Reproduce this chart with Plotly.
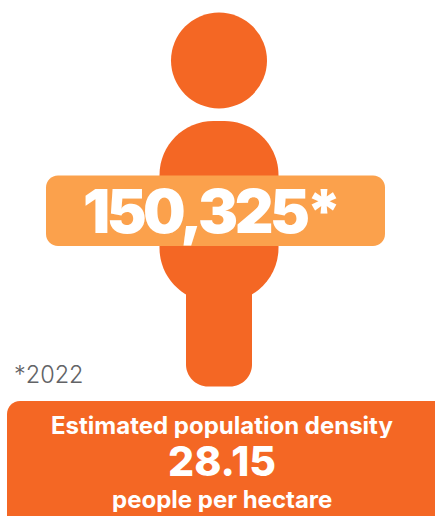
import plotly.graph_objects as go

headline_value = "150,325*"
footnote = "*2022"
density_title = "Estimated population density"
density_value = "28.15"
density_unit = "people per hectare"

ORANGE = "#F46724"
LIGHT = "#FBA14C"
W, H = 435, 516
FONT = "Inter"


def rrect(x0, y0, x1, y1, r):
    k = r * 0.448
    return (f"M{x0+r},{y0} L{x1-r},{y0} C{x1-k},{y0} {x1},{y0+k} {x1},{y0+r} "
            f"L{x1},{y1-r} C{x1},{y1-k} {x1-k},{y1} {x1-r},{y1} "
            f"L{x0+r},{y1} C{x0+k},{y1} {x0},{y1-k} {x0},{y1-r} "
            f"L{x0},{y0+r} C{x0},{y0+k} {x0+k},{y0} {x0+r},{y0} Z")


def leg(x0, y0, x1, y1, r):
    k = r * 0.448
    return (f"M{x0},{y0} L{x1},{y0} L{x1},{y1-r} C{x1},{y1-k} {x1-k},{y1} {x1-r},{y1} "
            f"L{x0+r},{y1} C{x0+k},{y1} {x0},{y1-k} {x0},{y1-r} Z")


def shape(path, color):
    return dict(type="path", path=path, fillcolor=color, line_width=0, xref="x", yref="y", layer="below")


shapes = [
    dict(type="circle", x0=171, x1=267, y0=12.5, y1=108.5, fillcolor=ORANGE, line_width=0, xref="x", yref="y", layer="below"),
    shape(rrect(159.5, 121, 278.5, 302, 54), ORANGE),
    shape(leg(186, 280, 252, 386.5, 22), ORANGE),
    shape(rrect(46, 175.5, 385, 246, 12), LIGHT),
    shape(rrect(7, 401, 450, 535, 13), ORANGE),
]


def text(x, y, s, size, color="white", weight=700, anchor="center", height=None):
    return dict(x=x, y=y, text=s, showarrow=False, xref="x", yref="y", xanchor=anchor, yanchor="middle",
                height=height, font=dict(family=FONT, size=size, color=color, weight=weight))


annotations = [
    text(210.5, 211, headline_value, 60, weight=900),
    text(12, 374, footnote, 23.5, color="#626366", weight=300, anchor="left"),
    text(222, 424.5, density_title, 24, height=26),
    text(222, 460.5, density_value, 41, weight=800, height=34),
    text(222, 498.5, density_unit, 24, height=26),
]

fig = go.Figure()
fig.update_layout(
    width=W, height=H, margin=dict(l=0, r=0, t=0, b=0),
    paper_bgcolor="white", plot_bgcolor="white", showlegend=False,
    xaxis=dict(range=[0, W], visible=False, fixedrange=True),
    yaxis=dict(range=[H, 0], visible=False, fixedrange=True),
    shapes=shapes, annotations=annotations,
)
fig.write_html("out.html", config={"displayModeBar": False},
               post_script=("document.body.style.margin='0';document.body.style.overflow='hidden';"
                            "var t=document.querySelectorAll('.annotation-text');"
                            "if(t[0]){t[0].style.letterSpacing='-3.5px';}"))
